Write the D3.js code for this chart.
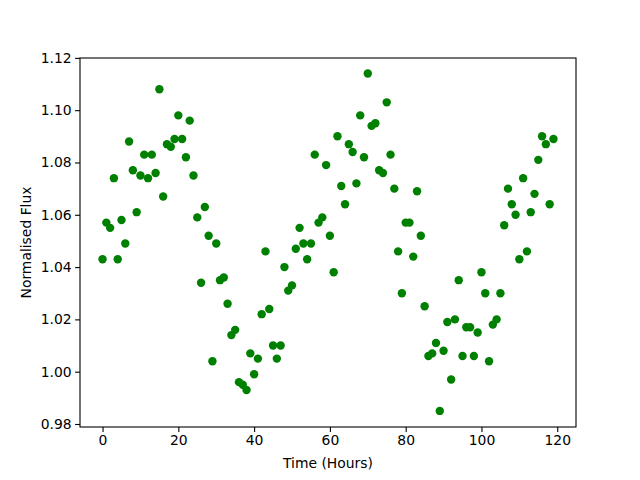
<!DOCTYPE html>
<html>
<head>
<meta charset="utf-8">
<script src="https://cdn.jsdelivr.net/npm/d3@7"></script>
<style>
  body { margin: 0; background: #fff; }
  text { font-family: "DejaVu Sans", sans-serif; }
</style>
</head>
<body>
<div id="chart"></div>
<script>
// flux readings, one per hour starting at t = 0
const hours = d3.range(0, 120);
const flux = [
  1.043, 1.057, 1.055, 1.074, 1.043, 1.058, 1.049, 1.088, 1.077, 1.061,
  1.075, 1.083, 1.074, 1.083, 1.076, 1.108, 1.067, 1.087, 1.086, 1.089,
  1.098, 1.089, 1.082, 1.096, 1.075, 1.059, 1.034, 1.063, 1.052, 1.004,
  1.049, 1.035, 1.036, 1.026, 1.014, 1.016, 0.996, 0.995, 0.993, 1.007,
  0.999, 1.005, 1.022, 1.046, 1.024, 1.010, 1.005, 1.010, 1.040, 1.031,
  1.033, 1.047, 1.055, 1.049, 1.043, 1.049, 1.083, 1.057, 1.059, 1.079,
  1.052, 1.038, 1.090, 1.071, 1.064, 1.087, 1.084, 1.072, 1.098, 1.082,
  1.114, 1.094, 1.095, 1.077, 1.076, 1.103, 1.083, 1.070, 1.046, 1.030,
  1.057, 1.057, 1.044, 1.069, 1.052, 1.025, 1.006, 1.007, 1.011, 0.985,
  1.008, 1.019, 0.997, 1.020, 1.035, 1.006, 1.017, 1.017, 1.006, 1.015,
  1.038, 1.030, 1.004, 1.018, 1.020, 1.030, 1.056, 1.070, 1.064, 1.060,
  1.043, 1.074, 1.046, 1.061, 1.068, 1.081, 1.090, 1.087, 1.064, 1.089
];
const xTicks = [0, 20, 40, 60, 80, 100, 120];
const yTicks = [0.98, 1.00, 1.02, 1.04, 1.06, 1.08, 1.10, 1.12];

const width = 640, height = 480;
const margin = {top: 58, right: 64, bottom: 53, left: 80};

const svg = d3.select('#chart').append('svg')
  .attr('width', width)
  .attr('height', height);

const x = d3.scaleLinear()
  .domain([-5.95, 124.95])
  .range([margin.left, width - margin.right]);

const y = d3.scaleLinear()
  .domain([0.97885, 1.11995])
  .range([height - margin.bottom, margin.top]);

// points
svg.append('g')
  .selectAll('circle')
  .data(hours)
  .enter()
  .append('circle')
  .attr('cx', d => x(d))
  .attr('cy', (d, i) => y(flux[i]))
  .attr('r', 4.2)
  .attr('fill', 'green');

// axes
const xAxis = svg.append('g')
  .attr('transform', `translate(0,${height - margin.bottom})`)
  .call(d3.axisBottom(x).tickValues(xTicks).tickSize(4.9).tickPadding(3.5).tickFormat(d3.format('d')));

const yAxis = svg.append('g')
  .attr('transform', `translate(${margin.left},0)`)
  .call(d3.axisLeft(y).tickValues(yTicks).tickSize(4.9).tickPadding(3.5).tickFormat(d3.format('.2f')));

[xAxis, yAxis].forEach(a => {
  a.selectAll('text').attr('font-size', 13.9).attr('font-family', '"DejaVu Sans", sans-serif').attr('fill', '#000');
  a.selectAll('line').attr('stroke', '#000').attr('stroke-width', 1.1);
  a.select('.domain').remove();
});

// frame
svg.append('rect')
  .attr('x', margin.left)
  .attr('y', margin.top)
  .attr('width', width - margin.left - margin.right)
  .attr('height', height - margin.top - margin.bottom)
  .attr('fill', 'none')
  .attr('stroke', '#000')
  .attr('stroke-width', 1.1);

svg.append('text')
  .attr('x', (margin.left + width - margin.right) / 2)
  .attr('y', 468)
  .attr('text-anchor', 'middle')
  .attr('font-size', 13.9)
  .text('Time (Hours)');

svg.append('text')
  .attr('transform', `translate(31,${(margin.top + height - margin.bottom) / 2}) rotate(-90)`)
  .attr('text-anchor', 'middle')
  .attr('font-size', 13.9)
  .text('Normalised Flux');
</script>
</body>
</html>
